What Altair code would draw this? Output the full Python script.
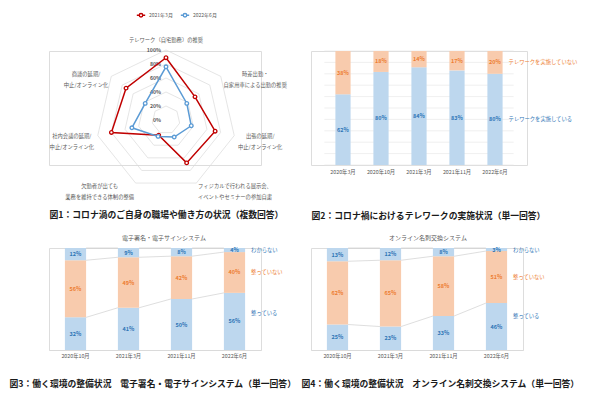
import altair as alt
import pandas as pd

FONT = "Noto Sans CJK JP"

# ---------------- data ----------------
radar_axes = [
    "テレワーク（自宅勤務）の推奨",
    "時差出勤・\n自家用車による出勤の推奨",
    "出張の延期/\n中止/オンライン化",
    "フィジカルで行われる展示会、\nイベントやセミナーの参加自粛",
    "欠勤者が出ても\n業務を維持できる体制の整備",
    "社内会議の延期/\n中止/オンライン化",
    "商談の延期/\n中止/オンライン化",
]
radar_series = ["2021年3月", "2022年6月"]
radar_2021 = [89, 53, 72, 68, 24, 80, 73]
radar_2022 = [76, 38, 37, 27, 26, 50, 38]
radar_rings = [20, 40, 60, 80, 100]
radar_ticks = [0, 20, 40, 60, 80, 100]

tele_dates = ["2020年3月", "2020年10月", "2021年3月", "2021年11月", "2022年6月"]
tele_series = ["テレワークを実施している", "テレワークを実施していない"]
tele_yes = [62, 80, 84, 83, 80]
tele_no = [38, 18, 14, 17, 20]
tele_grid = [0, 10, 20, 30, 40, 50, 60, 70, 80, 90, 100]

env_dates = ["2020年10月", "2021年3月", "2021年11月", "2022年6月"]
env_series = ["整っている", "整っていない", "わからない"]
esign_ok = [32, 41, 50, 56]
esign_ng = [56, 49, 42, 40]
esign_dk = [12, 9, 8, 4]
card_ok = [25, 23, 33, 46]
card_ng = [62, 65, 58, 51]
card_dk = [13, 12, 8, 3]

titles = ["電子署名・電子サインシステム", "オンライン名刺交換システム"]
captions = [
    "図1：コロナ渦のご自身の職場や働き方の状況（複数回答）",
    "図2：コロナ禍におけるテレワークの実施状況（単一回答）",
    "図3：働く環境の整備状況　電子署名・電子サインシステム（単一回答）",
    "図4：働く環境の整備状況　オンライン名刺交換システム（単一回答）",
]

# ---------------- styles ----------------
GRAY_TXT = "#595959"
CAP_SIZE = 8.8
LBL_SIZE = 5.3


def caption_axis(cx, cy, **kw):
    return alt.Axis(
        titleX=cx, titleY=cy, titleAlign="left", titleBaseline="middle", titleAngle=0,
        titleFont=FONT, titleFontSize=CAP_SIZE, titleFontWeight="bold", titleColor="#1a1a1a",
        **kw,
    )


# ---------------- radar (fig 1) ----------------
R_W, R_H = 212, 114
R_PX = 70.0            # pixels for 100%
R_CX, R_CY = 117, 69   # centre inside the view
rx = alt.Scale(domain=[-R_CX / R_PX, (R_W - R_CX) / R_PX], nice=False, zero=False)
ry = alt.Scale(domain=[-(R_H - R_CY) / R_PX, R_CY / R_PX], nice=False, zero=False)
r_axis = caption_axis(0, 49, labels=False, ticks=False, domain=False, grid=False)
n_ax = len(radar_axes)
ANG = f"2*PI*datum.i/{n_ax}"


def rX():
    return alt.X("px:Q", scale=rx, axis=r_axis, title=captions[0])


def rY():
    return alt.Y("py:Q", scale=ry, axis=None)


ring_df = pd.DataFrame([{"level": L, "i": i} for L in radar_rings for i in range(n_ax)])
rings = alt.Chart(ring_df).transform_calculate(
    px=f"datum.level/100*sin({ANG})", py=f"datum.level/100*cos({ANG})"
).mark_line(interpolate="linear-closed", color="#DADADA", strokeWidth=0.7).encode(
    x=rX(), y=rY(), detail="level:N", order="i:Q"
)

tick_df = pd.DataFrame({"level": radar_ticks})
ticks = alt.Chart(tick_df).transform_calculate(
    px="0", py="datum.level/100", lab="datum.level + '%'"
).mark_text(align="right", baseline="middle", dx=-5, font=FONT, fontSize=5.2,
            fontWeight="bold", color=GRAY_TXT).encode(x=rX(), y=rY(), text="lab:N")

ser_df = pd.DataFrame(
    [{"i": i, "series": s, "value": v}
     for s, vals in zip(radar_series, [radar_2021, radar_2022]) for i, v in enumerate(vals)]
)
stroke_scale = alt.Scale(domain=radar_series, range=["#C00000", "#5B9BD5"])
legend_path = "M-1,0L-0.42,0M0.42,0L1,0M-0.42,0A0.42,0.42,0,1,1,0.42,0A0.42,0.42,0,1,1,-0.42,0"
r_legend = alt.Legend(
    orient="none", legendX=87, legendY=-41, direction="horizontal", title=None,
    labelFont=FONT, labelFontSize=5, labelColor=GRAY_TXT, symbolType=legend_path,
    symbolSize=70, symbolStrokeWidth=1.4, symbolFillColor="white", columnPadding=5,
    labelOffset=3, padding=0,
)
ser_base = alt.Chart(ser_df).transform_calculate(
    px=f"datum.value/100*sin({ANG})", py=f"datum.value/100*cos({ANG})"
)
ser_lines = ser_base.mark_line(interpolate="linear-closed", strokeWidth=1.5).encode(
    x=rX(), y=rY(), order="i:Q",
    stroke=alt.Stroke("series:N", scale=stroke_scale, legend=r_legend),
)
ser_pts = ser_base.mark_point(shape="circle", filled=True, fill="white", size=13,
                              strokeWidth=1.3, opacity=1).encode(
    x=rX(), y=rY(),
    stroke=alt.Stroke("series:N", scale=stroke_scale, legend=r_legend),
)

# axis labels: each block is centred on its own lines and pushed outward by half its width
lab_df = pd.DataFrame({"i": list(range(n_ax)), "label": radar_axes})
HALF_EM = LBL_SIZE / 2 / R_PX
lab_base = alt.Chart(lab_df).transform_calculate(
    s=f"sin({ANG})",
    l0="split(datum.label, '\\n')[0]",
    l1="length(split(datum.label, '\\n')) > 1 ? split(datum.label, '\\n')[1] : ''",
).transform_calculate(
    w0="length(datum.l0) - 0.5*(length(datum.l0) - length(replace(datum.l0, regexp('/', 'g'), '')))",
    w1="length(datum.l1) - 0.5*(length(datum.l1) - length(replace(datum.l1, regexp('/', 'g'), '')))",
    side="datum.s > 0.05 ? 1 : (datum.s < -0.05 ? -1 : 0)",
).transform_calculate(
    px=f"1.05*sin({ANG}) + datum.side*max(datum.w0, datum.w1)*{HALF_EM}",
    py=f"1.05*cos({ANG})",
)
lab_kw = dict(font=FONT, fontSize=LBL_SIZE, color=GRAY_TXT, lineBreak="\n", lineHeight=10.5,
              align="center")
lab_top = lab_base.transform_filter("datum.side == 0").mark_text(
    baseline="bottom", dy=-4, **lab_kw).encode(x=rX(), y=rY(), text="label:N")
lab_sides = lab_base.transform_filter("datum.side != 0").mark_text(
    baseline="middle", **lab_kw).encode(x=rX(), y=rY(), text="label:N")

radar = alt.layer(rings, ticks, ser_lines, ser_pts, lab_top, lab_sides).properties(
    width=R_W, height=R_H
)


# ---------------- stacked 100% bars ----------------
def stack_panel(dates, series, values, bar_colors, txt_colors, caption, cap_x, cap_y,
                width, height, pad_outer, label_pad, title=None, title_dx=0,
                grid=None, series_lines=False, domain_line=True, bottom_dy=0):
    rows = []
    for di, d in enumerate(dates):
        for si, s in enumerate(series):
            rows.append({"date": d, "di": di, "series": s, "si": si, "value": values[si][di]})
    df = pd.DataFrame(rows)
    xscale = alt.Scale(domain=dates, paddingInner=0.6, paddingOuter=pad_outer)
    yscale = alt.Scale(domain=[0, 1], nice=False, zero=False)
    xaxis = caption_axis(
        cap_x, cap_y, labelAngle=0, labelFont=FONT, labelFontSize=LBL_SIZE,
        labelColor=GRAY_TXT, labelPadding=label_pad, ticks=False, grid=False,
        domain=domain_line, domainColor="#D9D9D9", domainWidth=0.8,
    )

    def X(field="date", band=None):
        kw = {} if band is None else {"bandPosition": band}
        return alt.X(f"{field}:N", scale=xscale, axis=xaxis, title=caption, **kw)

    base = alt.Chart(df).transform_joinaggregate(
        total="sum(value)", groupby=["date"]
    ).transform_window(
        cum="sum(value)", groupby=["date"], sort=[alt.SortField("si")], frame=[None, 0]
    ).transform_calculate(
        y1="(datum.cum - datum.value) / datum.total",
        y2="datum.cum / datum.total",
        mid="(datum.cum - datum.value / 2) / datum.total",
        lab="datum.value + '%'",
    )
    fill = alt.Fill("series:N", scale=alt.Scale(domain=series, range=bar_colors), legend=None)
    tcol = alt.Color("series:N", scale=alt.Scale(domain=series, range=txt_colors), legend=None)

    layers = []
    if grid is not None:
        gdf = pd.DataFrame({"lv": [g / 100 for g in grid], "first": dates[0], "last": dates[-1]})
        layers.append(
            alt.Chart(gdf).mark_rule(color="#E4E4E4", strokeWidth=0.6, xOffset=-11, x2Offset=11)
            .encode(x=X("first", 0), x2=alt.X2("last:N", bandPosition=1),
                    y=alt.Y("lv:Q", scale=yscale, axis=None))
        )
    layers.append(base.mark_bar().encode(
        x=X(), y=alt.Y("y1:Q", scale=yscale, axis=None), y2="y2:Q", fill=fill))
    if series_lines:
        layers.append(
            base.transform_window(
                window=[alt.WindowFieldDef(op="lead", field="date", **{"as": "next_date"}),
                        alt.WindowFieldDef(op="lead", field="y2", **{"as": "next_y"})],
                groupby=["series"], sort=[alt.SortField("di")],
            ).transform_filter("datum.next_date != null")
            .mark_rule(color="#C8C8C8", strokeWidth=0.6)
            .encode(x=X("date", 1), x2=alt.X2("next_date:N", bandPosition=0),
                    y=alt.Y("y2:Q", scale=yscale, axis=None), y2="next_y:Q")
        )
    layers.append(base.mark_text(font=FONT, fontSize=5.5, fontWeight="bold").encode(
        x=X(), y=alt.Y("mid:Q", scale=yscale, axis=None), text="lab:N", color=tcol))
    last = len(dates) - 1
    layers.append(
        base.transform_filter(f"datum.di == {last} && datum.si > 0")
        .mark_text(font=FONT, fontSize=LBL_SIZE, align="left", dx=6)
        .encode(x=X("date", 1), y=alt.Y("mid:Q", scale=yscale, axis=None),
                text="series:N", color=tcol))
    layers.append(
        base.transform_filter(f"datum.di == {last} && datum.si == 0")
        .mark_text(font=FONT, fontSize=LBL_SIZE, align="left", dx=6, dy=bottom_dy)
        .encode(x=X("date", 1), y=alt.Y("mid:Q", scale=yscale, axis=None),
                text="series:N", color=tcol))
    props = dict(width=width, height=height)
    if title:
        props["title"] = alt.TitleParams(
            title, orient="top", anchor="middle", frame="group", offset=7, dx=title_dx,
            font=FONT, fontSize=6, fontWeight="normal", color=GRAY_TXT)
    return alt.layer(*layers).properties(**props)


BAR2 = ["#BDD7EE", "#F8CBAD"]
TXT2 = ["#2E75B6", "#ED7D31"]
BAR3 = ["#BDD7EE", "#F8CBAD", "#D0CECE"]
TXT3 = ["#2E75B6", "#ED7D31", "#404040"]

fig2 = stack_panel(tele_dates, tele_series, [tele_yes, tele_no], BAR2, TXT2, captions[1],
                   0, 50, 216, 114, 0.642, 4, grid=tele_grid, domain_line=False)
fig3 = stack_panel(env_dates, env_series, [esign_ok, esign_ng, esign_dk], BAR3, TXT3,
                   captions[2], -40, 33, 212, 102, 0.3, 3, title=titles[0], title_dx=9,
                   series_lines=True, bottom_dy=-8)
fig4 = stack_panel(env_dates, env_series, [card_ok, card_ng, card_dk], BAR3, TXT3,
                   captions[3], -10, 33, 212, 102, 0.3, 3, title=titles[1], title_dx=11,
                   series_lines=True, bottom_dy=-11)

chart = alt.concat(
    radar, fig2, fig3, fig4, columns=2, spacing={"row": 83, "column": 50},
    bounds="flush", align="each",
).properties(
    padding={"left": 0, "top": 2, "right": 4, "bottom": 2}
).configure_view(stroke=None).configure(font=FONT)

chart.save("out.html", embed_options={"renderer": "svg", "actions": False})
